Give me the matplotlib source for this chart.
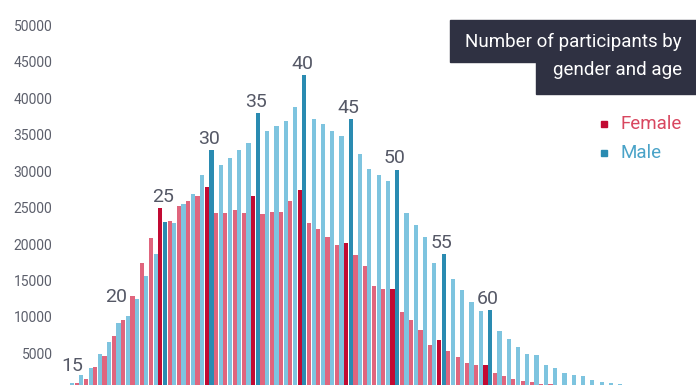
import matplotlib
matplotlib.use("Agg")
import matplotlib.pyplot as plt
from matplotlib.patches import Rectangle

plt.rcParams["font.family"] = ["Roboto", "DejaVu Sans"]

# participants per age
ages = list(range(15, 75))
female = [300, 950, 1450, 3100, 4700, 7450, 9650, 12900, 17450, 20800,
          24950, 23150, 25200, 25900, 26550, 27750, 24300, 24300, 24600, 24300,
          26600, 24100, 24400, 24400, 25900, 27400, 22900, 22050, 20950, 19850,
          20150, 18450, 17000, 14250, 13800, 13800, 10650, 9550, 8200, 6150,
          6850, 5400, 4550, 3750, 3400, 3450, 2300, 1950, 1550, 1250,
          1100, 800, 800, 550, 450, 350, 250, 200, 150, 100]
male = [950, 2050, 3000, 4900, 6600, 9200, 10150, 12400, 15550, 18650,
        23050, 22900, 25450, 26850, 29400, 32900, 30800, 31800, 32900, 33900,
        38000, 35500, 36100, 36900, 38800, 43100, 37100, 36450, 35500, 34800,
        37100, 32300, 30300, 29400, 28650, 30200, 24300, 22550, 20950, 17400,
        18600, 15250, 13650, 12050, 10800, 10950, 8100, 7000, 5900, 4900,
        4800, 3450, 2950, 2350, 2050, 1900, 1400, 1100, 900, 800]
highlight_ages = [25, 30, 35, 40, 45, 50, 55, 60]
label_ages = [15, 20, 25, 30, 35, 40, 45, 50, 55, 60]
series_names = ["Female", "Male"]
title_lines = ["Number of participants by", "gender and age"]

F_COL, F_DARK = "#e0657d", "#c20a32"
M_COL, M_DARK = "#7ec4df", "#2a8bb1"
LABEL_COL = "#555866"

W, H = 696, 385
fig = plt.figure(figsize=(W / 100, H / 100), dpi=100)

# axes placed in pixel terms: zero line sits just below the image edge
left_px, right_px, top_px, zero_px = 58, 696, 10, 390
ax = fig.add_axes([left_px / W, (H - zero_px) / H,
                   (right_px - left_px) / W, (zero_px - top_px) / H])
px_per_unit = 365 / 50000
px_per_age = 9.29
ax.set_ylim(0, (zero_px - top_px) / px_per_unit)
ax.set_xlim(25 - (162.65 - left_px) / px_per_age,
            25 + (right_px - 162.65) / px_per_age)

f_cols = [F_DARK if a in highlight_ages else F_COL for a in ages]
m_cols = [M_DARK if a in highlight_ages else M_COL for a in ages]
bw = 0.45
ax.bar([a - 0.25 for a in ages], female, width=bw, color=f_cols, linewidth=0)
ax.bar([a + 0.25 for a in ages], male, width=bw, color=m_cols, linewidth=0)

lift = {15: 6, 20: 12}
for a in label_ages:
    i = ages.index(a)
    top = max(female[i], male[i])
    ax.annotate(str(a), (a, top), xytext=(2 if a == 15 else 0, lift.get(a, 1.5)),
                textcoords="offset points", ha="center", va="bottom",
                fontsize=14, color=LABEL_COL)

ax.set_yticks(range(0, 50001, 5000))
ax.tick_params(axis="y", length=0, pad=4, labelsize=10, labelcolor="#5c5f6b")
ax.set_xticks([])
for s in ax.spines.values():
    s.set_visible(False)

# title block in the top right corner
def px_rect(x0, y0, x1, y1, **kw):
    fig.patches.append(Rectangle((x0 / W, 1 - y1 / H), (x1 - x0) / W, (y1 - y0) / H,
                                 transform=fig.transFigure, figure=fig, **kw))

box_col = "#2f3142"
px_rect(450, 19.5, 696, 62, color=box_col, zorder=5)
px_rect(536, 61, 696, 94, color=box_col, zorder=5)
fig.text(682 / W, 1 - 41.5 / H, title_lines[0], ha="right", va="center",
         fontsize=13.5, color="white", zorder=6)
fig.text(682 / W, 1 - 70 / H, title_lines[1], ha="right", va="center",
         fontsize=13.5, color="white", zorder=6)

# legend
legend_cols = [(F_DARK, "#d8465f"), (M_DARK, "#4aa3c8")]
for k, (name, (mk, tc)) in enumerate(zip(series_names, legend_cols)):
    yc = 124 + k * 29
    px_rect(600.5, yc - 3, 606.5, yc + 3, color=mk)
    fig.text(621 / W, 1 - yc / H, name, ha="left", va="center",
             fontsize=13.5, color=tc)

fig.savefig("out.png", dpi=100)
